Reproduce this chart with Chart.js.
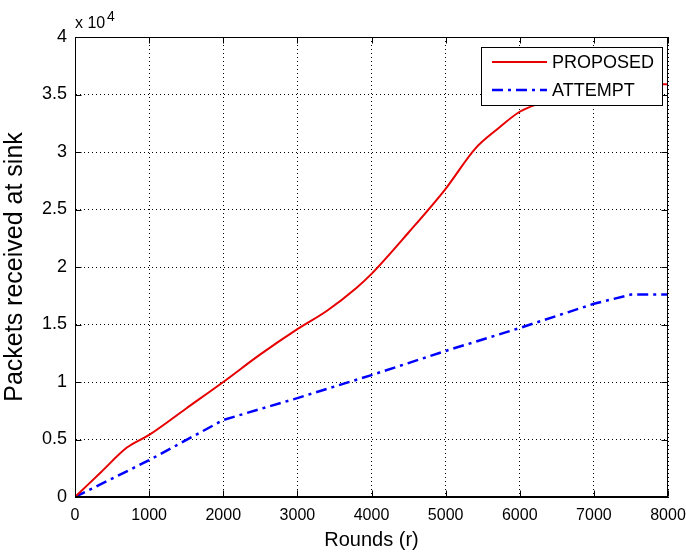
<!DOCTYPE html>
<html>
<head>
<meta charset="utf-8">
<script src="https://cdn.jsdelivr.net/npm/chart.js@4/dist/chart.umd.min.js"></script>
<style>
  body { margin: 0; background: #fff; }
</style>
</head>
<body>
<canvas id="packetsChart" width="686" height="554"></canvas>
<script>
// values (rounds -> packets received at sink)
const proposedRounds = [0, 350, 700, 1000, 1500, 2000, 2500, 3000, 3400, 3800, 4000, 4500, 5000, 5400, 5700, 6000, 6300, 6700, 7200, 8000]
const proposedPackets = [0, 2150, 4300, 5400, 7700, 10000, 12400, 14600, 16200, 18200, 19400, 23000, 26800, 30300, 32000, 33500, 34300, 35200, 35800, 35900]

const attemptRounds = [0, 500, 1000, 2000, 3000, 4000, 5000, 6000, 7000, 7500, 8000]
const attemptPackets = [0, 1600, 3200, 6700, 8600, 10600, 12700, 14700, 16800, 17600, 17600]

const xTicks = [0, 1000, 2000, 3000, 4000, 5000, 6000, 7000, 8000]
const yTickLabels = ['0', '0.5', '1', '1.5', '2', '2.5', '3', '3.5', '4']

const font = 'Liberation Sans, Arial, Helvetica, sans-serif'

const toPoints = (xs, ys) => xs.map((x, i) => ({x: x, y: ys[i]}))

// matlab style box, inside ticks, exponent and legend
const matlabAxes = {
  id: 'matlabAxes',
  afterDraw(chart) {
    const {ctx, chartArea: a, scales} = chart
    const L = Math.round(a.left) + 0.5, R = Math.round(a.right) - 0.5
    const T = Math.round(a.top) + 0.5, B = Math.round(a.bottom) - 0.5
    ctx.save()
    ctx.strokeStyle = '#000'
    ctx.lineWidth = 1
    ctx.strokeRect(L, T, R - L, B - T)

    ctx.beginPath()
    scales.x.ticks.forEach(t => {
      const px = Math.round(scales.x.getPixelForValue(t.value)) + 0.5
      ctx.moveTo(px, B); ctx.lineTo(px, B - 6)
      ctx.moveTo(px, T); ctx.lineTo(px, T + 6)
    })
    scales.y.ticks.forEach(t => {
      const py = Math.round(scales.y.getPixelForValue(t.value)) + 0.5
      ctx.moveTo(L, py); ctx.lineTo(L + 6, py)
      ctx.moveTo(R, py); ctx.lineTo(R - 6, py)
    })
    ctx.stroke()

    // x 10^4
    ctx.fillStyle = '#000'
    ctx.textBaseline = 'alphabetic'
    ctx.textAlign = 'left'
    ctx.font = '16px ' + font
    ctx.fillText('x 10', 75, 28)
    ctx.font = '14px ' + font
    ctx.fillText('4', 107, 21)

    // legend
    const lx = 481, ly = 47, lw = 181, lh = 58
    ctx.fillStyle = '#fff'
    ctx.fillRect(lx, ly, lw, lh)
    ctx.strokeRect(lx + 0.5, ly + 0.5, lw, lh)
    chart.data.datasets.forEach((ds, i) => {
      const yy = 62 + i * 28
      ctx.beginPath()
      ctx.strokeStyle = ds.borderColor
      ctx.lineWidth = ds.borderWidth
      ctx.setLineDash(ds.borderDash || [])
      ctx.moveTo(492, yy); ctx.lineTo(547, yy)
      ctx.stroke()
      ctx.setLineDash([])
      ctx.fillStyle = '#000'
      ctx.font = '18px ' + font
      ctx.textBaseline = 'middle'
      ctx.fillText(ds.label, 552, yy + 1)
    })
    ctx.restore()
  }
}

const ctx = document.getElementById('packetsChart').getContext('2d')
const packetsChart = new Chart(ctx, {
  type: 'line',
  data: {
    datasets: [{
      label: 'PROPOSED',
      data: toPoints(proposedRounds, proposedPackets),
      borderColor: 'rgb(230, 0, 0)',
      borderWidth: 2,
      pointRadius: 0,
      cubicInterpolationMode: 'monotone',
      fill: false
    }, {
      label: 'ATTEMPT',
      data: toPoints(attemptRounds, attemptPackets),
      borderColor: 'rgb(0, 0, 255)',
      borderWidth: 2.5,
      borderDash: [11, 5, 3, 5],
      pointRadius: 0,
      tension: 0,
      fill: false
    }]
  },
  options: {
    responsive: false,
    animation: false,
    layout: {padding: {top: 37, right: 18, left: 0, bottom: 0}},
    plugins: {
      legend: {display: false},
      tooltip: {enabled: false}
    },
    scales: {
      x: {
        type: 'linear',
        min: 0,
        max: 8000,
        afterFit: scale => { scale.height = 57; scale.paddingLeft = 0; scale.paddingRight = 0 },
        afterBuildTicks: scale => { scale.ticks = xTicks.map(v => ({value: v})) },
        grid: {color: '#000', lineWidth: 1, drawTicks: false},
        border: {color: '#000', dash: [1, 3]},
        ticks: {color: '#000', padding: 9, maxRotation: 0, font: {family: font, size: 16}, callback: v => String(v)},
        title: {display: true, text: 'Rounds (r)', color: '#000', padding: {top: 0, bottom: 2}, font: {family: font, size: 20}}
      },
      y: {
        min: 0,
        max: 40000,
        afterFit: scale => { scale.width = 75; scale.paddingTop = 0; scale.paddingBottom = 0 },
        grid: {color: '#000', lineWidth: 1, drawTicks: false},
        border: {color: '#000', dash: [1, 3]},
        ticks: {
          stepSize: 5000,
          color: '#000',
          padding: 8,
          font: {family: font, size: 18},
          callback: (v, i) => yTickLabels[i]
        },
        title: {display: true, text: 'Packets received at sink', color: '#000', padding: {top: 0, bottom: 0}, font: {family: font, size: 25}}
      }
    }
  },
  plugins: [matlabAxes]
})
</script>
</body>
</html>
